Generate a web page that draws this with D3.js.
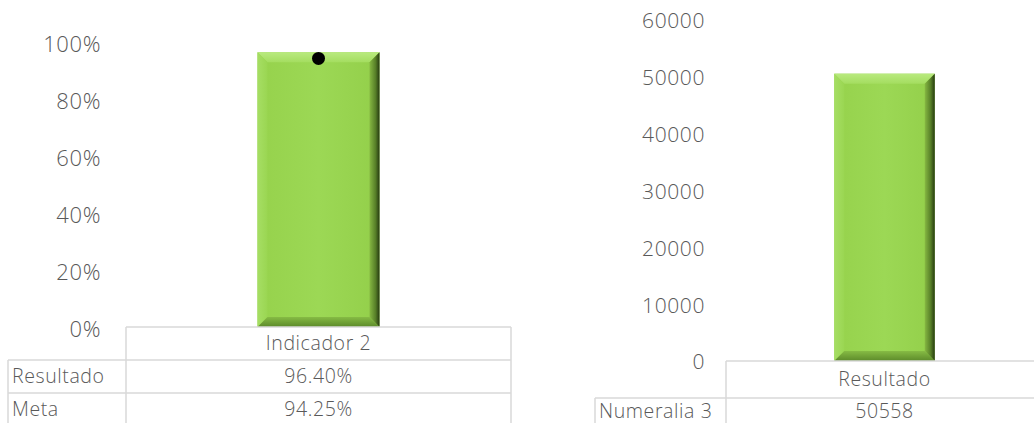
<!DOCTYPE html>
<html>
<head>
	<meta charset="utf-8">
	<title></title>
	<script src="https://d3js.org/d3.v7.min.js" charset="utf-8"></script>
	<style>
	body {margin: 0; background-color: #fff;}
	text {font-family: "Open Sans", Lato, sans-serif; font-weight: 300; fill: #595959; letter-spacing: 0.6px;}
	</style>
</head>
<body>
	<script>

		// chart 1 data
		var cats1 = ["Indicador 2"];
		var resultado1 = [0.964];
		var meta1 = [0.9425];
		var ticks1 = [0, 0.2, 0.4, 0.6, 0.8, 1];
		var rowLabels1 = ["Resultado", "Meta"];

		// chart 2 data
		var cats2 = ["Resultado"];
		var numeralia3 = [50558];
		var ticks2 = [0, 10000, 20000, 30000, 40000, 50000, 60000];
		var rowLabels2 = ["Numeralia 3"];

		var width = 1034, height = 423;
		var lineCol = "#d9d9d9";

		var svg = d3.select("body").append("svg")
			.attr("width", width)
			.attr("height", height);

		var defs = svg.append("defs");
		function grad(id, x2, y2, stops) {
			var g = defs.append("linearGradient").attr("id", id)
				.attr("x1", 0).attr("y1", 0).attr("x2", x2).attr("y2", y2);
			stops.forEach(function(s) {
				g.append("stop").attr("offset", s[0]).attr("stop-color", s[1]);
			});
		}
		grad("gFace", 1, 0, [[0, "#96d24c"], [0.5, "#9cd855"], [1, "#93cf4a"]]);
		grad("gTop", 0, 1, [[0, "#b9ea7f"], [1, "#a4dd60"]]);
		grad("gLeft", 1, 0, [[0, "#a6de64"], [1, "#9ad652"]]);
		grad("gRight", 1, 0, [[0, "#86b842"], [0.6, "#577f28"], [1, "#263a10"]]);
		grad("gBottom", 0, 1, [[0, "#86bb44"], [1, "#5c8a2a"]]);

		// bevelled bar like the office "bevel" shape
		function bevelBar(g, x0, x1, y0, y1) {
			var b = 10;
			g.append("rect").attr("x", x0).attr("y", y0)
				.attr("width", x1 - x0).attr("height", y1 - y0)
				.attr("fill", "url(#gFace)");
			var pts = {
				top: [[x0, y0], [x1, y0], [x1 - b, y0 + b], [x0 + b, y0 + b]],
				left: [[x0, y0], [x0 + b, y0 + b], [x0 + b, y1 - b], [x0, y1]],
				right: [[x1, y0], [x1, y1], [x1 - b, y1 - b], [x1 - b, y0 + b]],
				bottom: [[x0, y1], [x0 + b, y1 - b], [x1 - b, y1 - b], [x1, y1]]
			};
			var fills = {top: "url(#gTop)", left: "url(#gLeft)", right: "url(#gRight)", bottom: "url(#gBottom)"};
			Object.keys(pts).forEach(function(k) {
				g.append("polygon")
					.attr("points", pts[k].map(function(p) { return p.join(","); }).join(" "))
					.attr("fill", fills[k]);
			});
		}

		function hline(x0, x1, y) {
			svg.append("line").attr("x1", x0).attr("x2", x1).attr("y1", y).attr("y2", y)
				.attr("stroke", lineCol).attr("stroke-width", 1.5);
		}
		function vline(x, y0, y1) {
			svg.append("line").attr("x1", x).attr("x2", x).attr("y1", y0).attr("y2", y1)
				.attr("stroke", lineCol).attr("stroke-width", 1.5);
		}

		// ---------- chart 1 ----------
		var x1 = d3.scaleBand().domain(cats1).range([126, 511]);
		var y1 = d3.scaleLinear().domain([0, 1]).range([327, 42]);

		svg.append("g").selectAll("text")
			.data(ticks1).enter().append("text")
			.attr("x", 101)
			.attr("y", function(d) { return y1(d) + 2; })
			.attr("dy", "0.35em")
			.attr("text-anchor", "end")
			.style("font-size", "22px")
			.text(d3.format(".0%"));

		var bw1 = x1.bandwidth() * 0.317;
		var g1 = svg.append("g");
		cats1.forEach(function(c, i) {
			var cx = x1(c) + x1.bandwidth() / 2;
			bevelBar(g1, cx - bw1 / 2, cx + bw1 / 2, y1(resultado1[i]), y1(0));
		});
		g1.selectAll("circle")
			.data(meta1).enter().append("circle")
			.attr("cx", function(d, i) { return x1(cats1[i]) + x1.bandwidth() / 2; })
			.attr("cy", function(d) { return y1(d); })
			.attr("r", 6.5)
			.attr("fill", "#000");

		// data table 1
		var rowH1 = 33;
		hline(126, 511, 327);
		hline(8, 511, 360);
		hline(8, 511, 393);
		vline(126, 327, 423);
		vline(511, 327, 423);
		vline(8, 360, 423);
		cats1.forEach(function(c) {
			var cx = x1(c) + x1.bandwidth() / 2;
			svg.append("text").attr("x", cx).attr("y", 327 + rowH1 / 2)
				.attr("dy", "0.35em").attr("text-anchor", "middle")
				.style("font-size", "19.5px").text(c);
		});
		var vals1 = [resultado1, meta1];
		rowLabels1.forEach(function(lab, r) {
			var yy = 360 + r * rowH1 + rowH1 / 2;
			svg.append("text").attr("x", 12).attr("y", yy).attr("dy", "0.35em")
				.style("font-size", "19.5px").text(lab);
			cats1.forEach(function(c, i) {
				svg.append("text").attr("x", x1(c) + x1.bandwidth() / 2).attr("y", yy)
					.attr("dy", "0.35em").attr("text-anchor", "middle")
					.style("font-size", "19.5px").text(d3.format(".2%")(vals1[r][i]));
			});
		});

		// ---------- chart 2 ----------
		var x2 = d3.scaleBand().domain(cats2).range([726, 1043]);
		var y2 = d3.scaleLinear().domain([0, 60000]).range([361, 20]);

		svg.append("g").selectAll("text")
			.data(ticks2).enter().append("text")
			.attr("x", 705)
			.attr("y", function(d) { return y2(d) + 1; })
			.attr("dy", "0.35em")
			.attr("text-anchor", "end")
			.style("font-size", "21px")
			.text(function(d) { return d; });

		var bw2 = x2.bandwidth() * 0.317;
		var g2 = svg.append("g");
		cats2.forEach(function(c, i) {
			var cx = x2(c) + x2.bandwidth() / 2;
			bevelBar(g2, cx - bw2 / 2, cx + bw2 / 2, y2(numeralia3[i]), y2(0));
		});

		// data table 2
		var rowH2 = 37;
		hline(726, 1034, 361);
		hline(595, 1034, 398);
		vline(726, 361, 423);
		vline(595, 398, 423);
		cats2.forEach(function(c) {
			svg.append("text").attr("x", x2(c) + x2.bandwidth() / 2).attr("y", 361 + rowH2 / 2)
				.attr("dy", "0.35em").attr("text-anchor", "middle")
				.style("font-size", "19.5px").text(c);
		});
		rowLabels2.forEach(function(lab, r) {
			var yy = 398 + r * rowH2 + 13;
			svg.append("text").attr("x", 599).attr("y", yy).attr("dy", "0.35em")
				.style("font-size", "19.5px").text(lab);
			cats2.forEach(function(c, i) {
				svg.append("text").attr("x", x2(c) + x2.bandwidth() / 2).attr("y", yy)
					.attr("dy", "0.35em").attr("text-anchor", "middle")
					.style("font-size", "19.5px").text(numeralia3[i]);
			});
		});

	</script>
</body>
</html>
